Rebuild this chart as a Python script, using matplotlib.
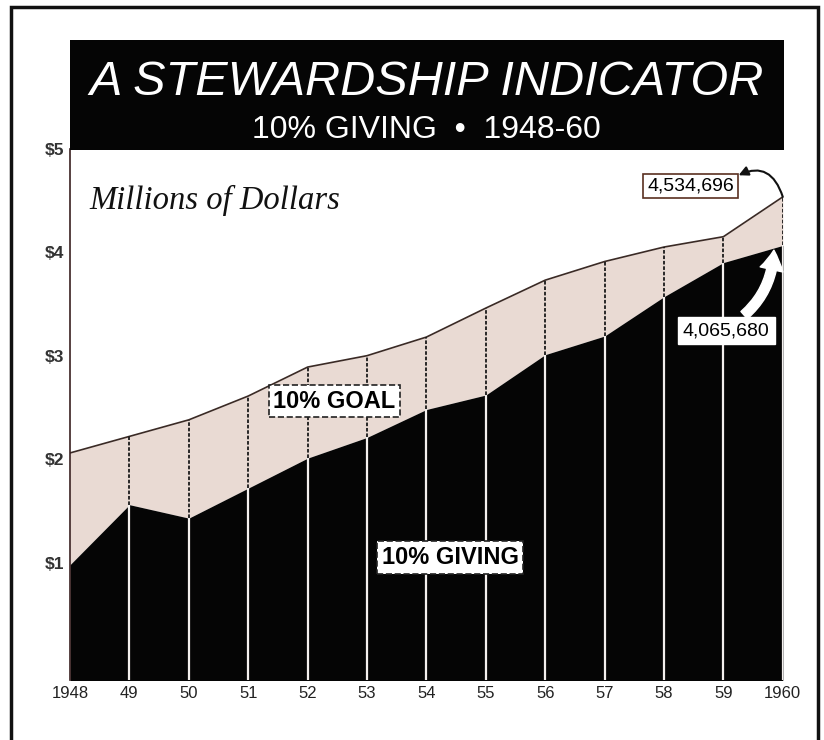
import matplotlib.pyplot as plt
from matplotlib.patches import Rectangle

# data (millions of dollars)
years = [1948, 1949, 1950, 1951, 1952, 1953, 1954, 1955, 1956, 1957, 1958, 1959, 1960]
goal = [2.06, 2.22, 2.38, 2.61, 2.89, 3.00, 3.18, 3.46, 3.73, 3.91, 4.05, 4.15, 4.534696]
giving = [0.98, 1.56, 1.43, 1.72, 2.01, 2.21, 2.48, 2.62, 3.01, 3.19, 3.57, 3.90, 4.065680]
year_labels = ["1948", "49", "50", "51", "52", "53", "54", "55", "56", "57", "58", "59", "1960"]
y_ticks = [1, 2, 3, 4, 5]
y_labels = ["$1", "$2", "$3", "$4", "$5"]

sans = ["Liberation Sans", "DejaVu Sans"]

fig = plt.figure(figsize=(8.24, 7.4), dpi=100)
ax = fig.add_axes([0.085, 0.081, 0.865, 0.718])

ax.fill_between(years, giving, goal, color="#e9dad3", lw=0)
ax.fill_between(years, -0.2, giving, color="#050505", lw=0)
ax.plot(years, goal, color="#3a2a25", lw=1.2)

# year dividers: white in the black area, dotted dark in the goal band
for x, g, t in zip(years[1:], giving[1:], goal[1:]):
    ax.plot([x, x], [-0.2, g], color="#f4f0ee", lw=1.6)
    ax.plot([x, x], [g, t], color="#1a1a1a", lw=1.3, ls=(0, (2, 1)))

ax.set_xlim(1948, 1960)
ax.set_ylim(-0.135, 5)
ax.set_xticks(years)
ax.set_xticklabels(year_labels, fontsize=12, family=sans, color="#222")
ax.set_yticks(y_ticks)
ax.set_yticklabels(y_labels, fontsize=12.5, family=sans, color="#333", fontweight="bold")
ax.tick_params(length=0, pad=4)
for s in ["top", "right", "bottom"]:
    ax.spines[s].set_visible(False)
ax.spines["left"].set_color("#3a2020")
ax.spines["left"].set_linewidth(1.2)

ax.text(1948.33, 4.5, "Millions of Dollars", family="Liberation Serif",
        style="italic", fontsize=23.5, color="#111", va="center")

box = dict(boxstyle="square,pad=0.2", fc="white", ec="#222", lw=1.2, ls="--")
ax.text(1952.45, 2.56, "10% GOAL", fontsize=17, fontweight="bold", family=sans,
        ha="center", va="center", bbox=box)
ax.text(1954.4, 1.05, "10% GIVING", fontsize=17, fontweight="bold", family=sans,
        ha="center", va="center", bbox=box)

ax.annotate("4,534,696", xy=(1960, goal[-1]), xytext=(1958.45, 4.64),
            fontsize=14, family=sans, ha="center", va="center",
            bbox=dict(boxstyle="square,pad=0.2", fc="white", ec="#5a3020", lw=1.2),
            arrowprops=dict(arrowstyle="<|-", color="#111", lw=1.5, relpos=(1, 1),
                            connectionstyle="arc3,rad=-0.6", shrinkA=0, shrinkB=0))
ax.annotate("4,065,680", xy=(1959.85, 4.02), xytext=(1959.05, 3.24),
            fontsize=14, family=sans, ha="center", va="center",
            bbox=dict(boxstyle="square,pad=0.25", fc="white", ec="white"),
            arrowprops=dict(arrowstyle="simple,head_width=1.2,head_length=1.0,tail_width=0.5",
                            fc="white", ec="white", connectionstyle="arc3,rad=0.25",
                            relpos=(0.6, 1), shrinkA=2, shrinkB=0))

# title banner
fig.patches.append(Rectangle((0.085, 0.797), 0.866, 0.149, transform=fig.transFigure,
                             fc="#050505", ec="none", zorder=1))
fig.text(0.518, 0.888, "A STEWARDSHIP INDICATOR", color="white", fontsize=35,
         style="italic", family=sans, ha="center", va="center", fontweight="medium")
fig.text(0.518, 0.824, "10% GIVING  \u2022  1948-60", color="white", fontsize=23,
         family=sans, ha="center", va="center")

# outer frame
fig.patches.append(Rectangle((0.013, -0.02), 0.98, 1.01, transform=fig.transFigure,
                             fc="none", ec="#111", lw=2.5))

fig.savefig("out.png", dpi=100)
